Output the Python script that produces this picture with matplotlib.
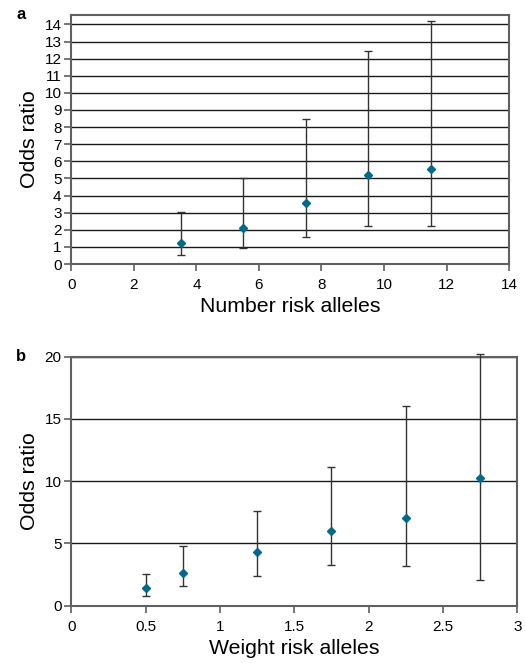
import matplotlib
matplotlib.use("Agg")
import matplotlib.pyplot as plt
import numpy as np

plt.rcParams['font.family'] = ['Liberation Sans', 'DejaVu Sans']

# panel a: number of risk alleles
num_x = [3.5, 5.5, 7.5, 9.5, 11.5]
num_or = [1.23, 2.09, 3.59, 5.19, 5.54]
num_lo = [0.53, 0.92, 1.58, 2.22, 2.22]
num_hi = [3.06, 5.03, 8.50, 12.46, 14.17]

# panel b: weighted risk alleles
wt_x = [0.5, 0.75, 1.25, 1.75, 2.25, 2.75]
wt_or = [1.42, 2.66, 4.30, 6.02, 7.04, 10.24]
wt_lo = [0.78, 1.56, 2.42, 3.28, 3.17, 2.04]
wt_hi = [2.53, 4.78, 7.58, 11.18, 16.02, 20.24]

pt_color = '#006a8e'
bar_color = '#333333'
grid_color = '#1a1a1a'
frame_color = '#606060'

fig = plt.figure(figsize=(5.25, 6.63), dpi=100)
ax_a = fig.add_axes([0.1358, 0.6018, 0.834, 0.3756])
ax_b = fig.add_axes([0.1358, 0.0864, 0.8495, 0.3756])


def draw_panel(ax, x, y, lo, hi, xlim, ylim, xticks, yticks, xlabel, letter):
    y = np.array(y)
    yerr = [y - np.array(lo), np.array(hi) - y]
    for yt in yticks[1:]:
        ax.axhline(yt, color=grid_color, lw=1.0, zorder=1)
    ax.errorbar(x, y, yerr=yerr, fmt='D', color=pt_color, ms=4.5,
                ecolor=bar_color, elinewidth=1.0, capsize=3, capthick=1.0,
                zorder=3, clip_on=False)
    ax.set_xlim(*xlim)
    ax.set_ylim(*ylim)
    ax.set_xticks(xticks)
    ax.set_yticks(yticks)
    ax.set_xticklabels([('%g' % t) for t in xticks])
    ax.tick_params(axis='both', direction='out', length=5, width=1.2,
                   color=frame_color, labelsize=11, pad=2)
    ax.tick_params(axis='x', pad=5)
    for s in ax.spines.values():
        s.set_color(frame_color)
        s.set_linewidth(1.5)
    ax.set_xlabel(xlabel, fontsize=15.3, labelpad=4)
    ax.set_ylabel('Odds ratio', fontsize=15.3, labelpad=4)
    ax.text(-0.125, 1.0, letter, transform=ax.transAxes, fontsize=12,
            fontweight='bold', ha='left', va='center')


draw_panel(ax_a, num_x, num_or, num_lo, num_hi, (0, 14), (0, 14.55),
           list(range(0, 15, 2)), list(range(0, 15)), 'Number risk alleles', 'a')
draw_panel(ax_b, wt_x, wt_or, wt_lo, wt_hi, (0, 3), (0, 20),
           [0, 0.5, 1, 1.5, 2, 2.5, 3], [0, 5, 10, 15, 20], 'Weight risk alleles', 'b')

fig.savefig('out.png', dpi=100)
